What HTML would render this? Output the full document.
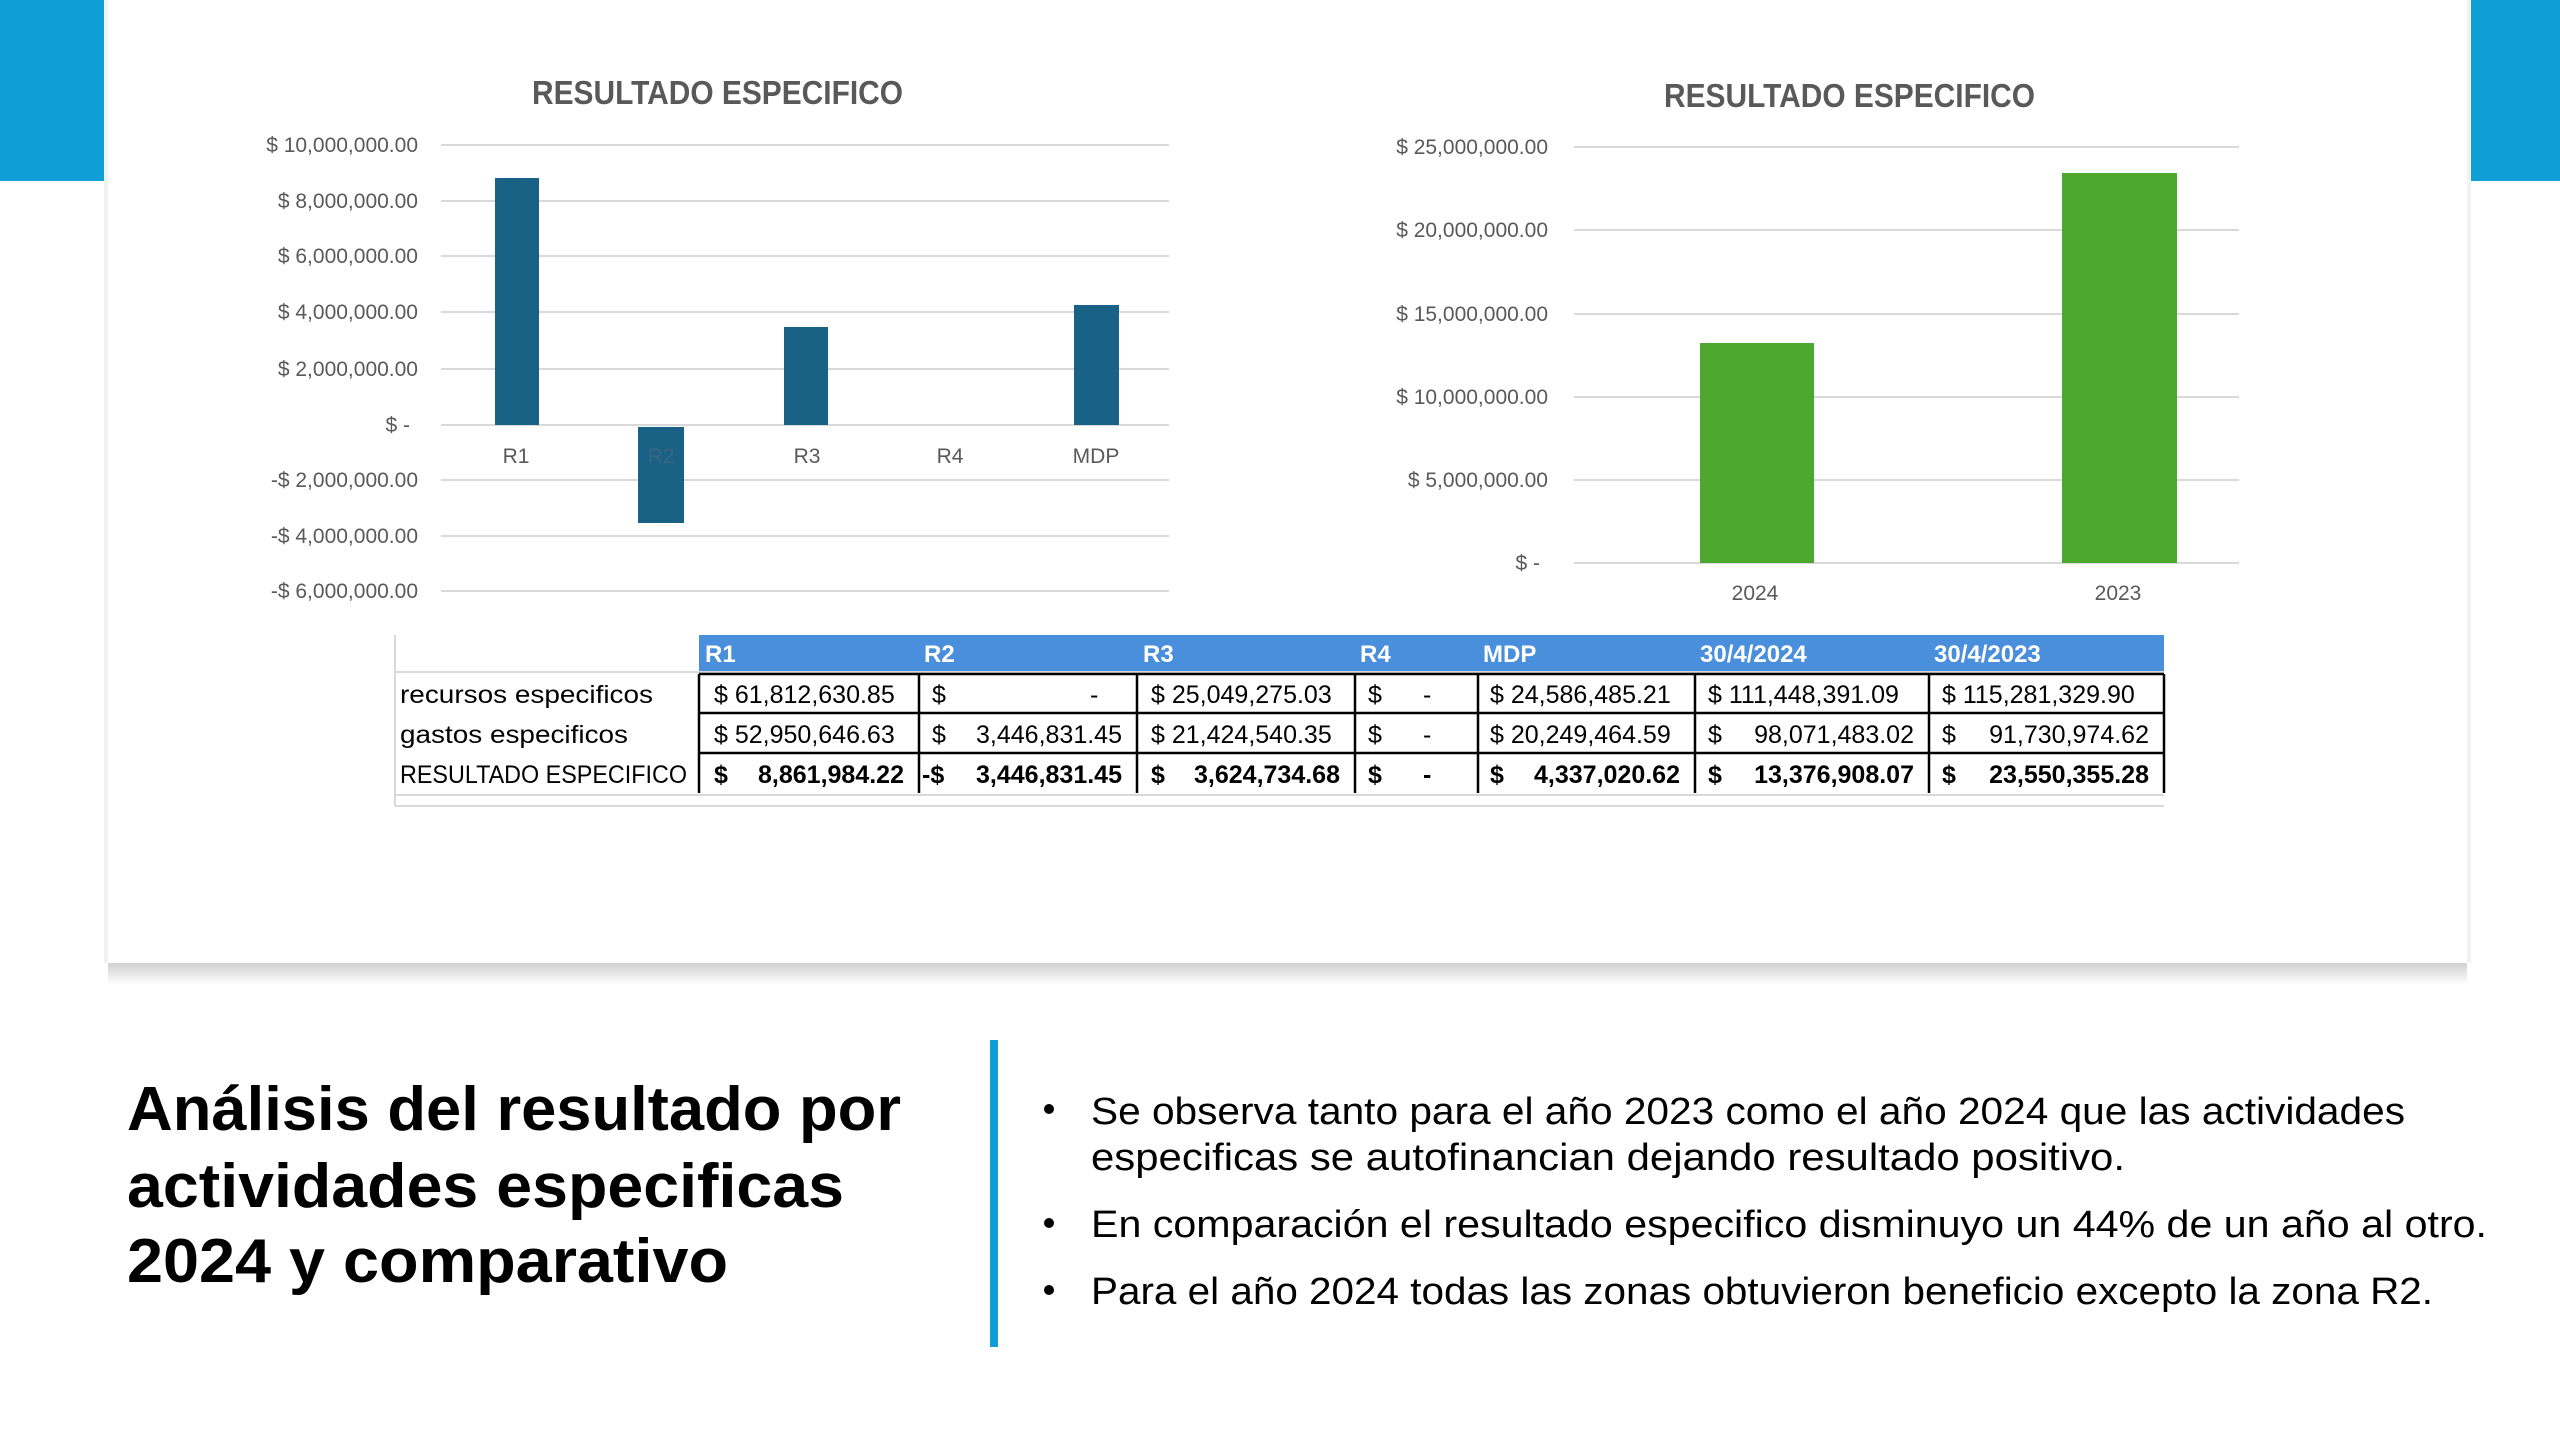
<!DOCTYPE html>
<html><head><meta charset="utf-8"><style>
html,body{margin:0;padding:0;background:#fff;}
svg{display:block;}
text{font-family:"Liberation Sans Narrow","Liberation Sans",sans-serif;}
</style></head><body>
<svg width="2560" height="1440" viewBox="0 0 2560 1440" xmlns="http://www.w3.org/2000/svg">
<defs>
<linearGradient id="sh" x1="0" y1="0" x2="0" y2="1"><stop offset="0" stop-color="#000" stop-opacity="0.18"/><stop offset="1" stop-color="#000" stop-opacity="0"/></linearGradient>
</defs>
<rect width="2560" height="1440" fill="#fff"/>
<rect x="0" y="0" width="108" height="181" fill="#0f9ed5"/>
<rect x="2467" y="0" width="93" height="181" fill="#0f9ed5"/>
<rect x="108" y="963" width="2359" height="22" fill="url(#sh)"/>
<rect x="104" y="0" width="4" height="963" fill="#f2f2f2"/>
<rect x="2467" y="0" width="4" height="963" fill="#f2f2f2"/>
<rect x="108" y="0" width="2359" height="963" fill="#fff"/>

<!-- Chart 1 -->
<text x="532" y="104" font-size="33" fill="#595959" font-weight="bold" textLength="371" lengthAdjust="spacingAndGlyphs">RESULTADO ESPECIFICO</text>
<g stroke="#d9d9d9" stroke-width="2">
<line x1="441" x2="1169" y1="145" y2="145"/><line x1="441" x2="1169" y1="201" y2="201"/>
<line x1="441" x2="1169" y1="256" y2="256"/><line x1="441" x2="1169" y1="312" y2="312"/>
<line x1="441" x2="1169" y1="369" y2="369"/><line x1="441" x2="1169" y1="425" y2="425"/>
<line x1="441" x2="1169" y1="480" y2="480"/><line x1="441" x2="1169" y1="536" y2="536"/>
<line x1="441" x2="1169" y1="591" y2="591"/>
</g>
<g font-size="21" fill="#595959" text-anchor="end">
<text x="418" y="152">$ 10,000,000.00</text><text x="418" y="208">$ 8,000,000.00</text>
<text x="418" y="263">$ 6,000,000.00</text><text x="418" y="319">$ 4,000,000.00</text>
<text x="418" y="376">$ 2,000,000.00</text><text x="410" y="432">$ -</text>
<text x="418" y="487">-$ 2,000,000.00</text><text x="418" y="543">-$ 4,000,000.00</text>
<text x="418" y="598">-$ 6,000,000.00</text>
</g>
<g fill="#1a6186">
<rect x="495" y="178" width="44" height="247"/>
<rect x="638" y="427" width="46" height="96"/>
<rect x="784" y="327" width="44" height="98"/>
<rect x="1074" y="305" width="45" height="120"/>
</g>
<g font-size="21" fill="#595959" text-anchor="middle">
<text x="516" y="463">R1</text><text x="661" y="463" fill="#3d6580">R2</text><text x="807" y="463">R3</text>
<text x="950" y="463">R4</text><text x="1096" y="463">MDP</text>
</g>

<!-- Chart 2 -->
<text x="1664" y="107" font-size="33" fill="#595959" font-weight="bold" textLength="371" lengthAdjust="spacingAndGlyphs">RESULTADO ESPECIFICO</text>
<g stroke="#d9d9d9" stroke-width="2">
<line x1="1574" x2="2239" y1="147" y2="147"/><line x1="1574" x2="2239" y1="230" y2="230"/>
<line x1="1574" x2="2239" y1="314" y2="314"/><line x1="1574" x2="2239" y1="397" y2="397"/>
<line x1="1574" x2="2239" y1="480" y2="480"/><line x1="1574" x2="2239" y1="563" y2="563"/>
</g>
<g font-size="21" fill="#595959" text-anchor="end">
<text x="1548" y="154">$ 25,000,000.00</text><text x="1548" y="237">$ 20,000,000.00</text>
<text x="1548" y="321">$ 15,000,000.00</text><text x="1548" y="404">$ 10,000,000.00</text>
<text x="1548" y="487">$ 5,000,000.00</text><text x="1540" y="570">$ -</text>
</g>
<rect x="1700" y="343" width="114" height="220" fill="#4ea72e"/>
<rect x="2062" y="173" width="115" height="390" fill="#4ea72e"/>
<g font-size="21" fill="#595959" text-anchor="middle">
<text x="1755" y="600">2024</text><text x="2118" y="600">2023</text>
</g>

<!-- Table -->
<rect x="699" y="635" width="1465" height="37" fill="#4a8fdb"/>
<g font-size="24" font-weight="bold" fill="#fff">
<text x="705" y="662">R1</text><text x="924" y="662">R2</text><text x="1143" y="662">R3</text>
<text x="1360" y="662">R4</text><text x="1483" y="662">MDP</text><text x="1700" y="662">30/4/2024</text>
<text x="1934" y="662">30/4/2023</text>
</g>
<g stroke="#d9d9d9" stroke-width="2">
<line x1="395" x2="2164" y1="672" y2="672"/><line x1="395" x2="2164" y1="795" y2="795"/>
<line x1="395" x2="2164" y1="806" y2="806"/>
<line x1="395" x2="395" y1="635" y2="806"/>
</g>
<g stroke="#000" stroke-width="2.5" fill="none">
<line x1="699" x2="2164" y1="674" y2="674"/><line x1="699" x2="2164" y1="713" y2="713"/>
<line x1="699" x2="2164" y1="753" y2="753"/>
<line x1="699" x2="699" y1="674" y2="793"/><line x1="919" x2="919" y1="674" y2="793"/>
<line x1="1137" x2="1137" y1="674" y2="793"/><line x1="1355" x2="1355" y1="674" y2="793"/>
<line x1="1478" x2="1478" y1="674" y2="793"/><line x1="1695" x2="1695" y1="674" y2="793"/>
<line x1="1929" x2="1929" y1="674" y2="793"/><line x1="2164" x2="2164" y1="674" y2="793"/>
</g>
<g font-size="25" fill="#000">
<text x="400" y="703" textLength="253" lengthAdjust="spacingAndGlyphs">recursos especificos</text>
<text x="400" y="743" textLength="228" lengthAdjust="spacingAndGlyphs">gastos especificos</text>
<text x="400" y="783" textLength="287" lengthAdjust="spacingAndGlyphs">RESULTADO ESPECIFICO</text>
<text x="714" y="703">$ 61,812,630.85</text><text x="932" y="703">$</text><text x="1090" y="703">-</text>
<text x="1151" y="703">$ 25,049,275.03</text><text x="1368" y="703">$</text><text x="1423" y="703">-</text>
<text x="1490" y="703">$ 24,586,485.21</text><text x="1708" y="703">$ 111,448,391.09</text>
<text x="1942" y="703">$ 115,281,329.90</text>
<text x="714" y="743">$ 52,950,646.63</text><text x="932" y="743">$</text><text x="1122" y="743" text-anchor="end">3,446,831.45</text>
<text x="1151" y="743">$ 21,424,540.35</text><text x="1368" y="743">$</text><text x="1423" y="743">-</text>
<text x="1490" y="743">$ 20,249,464.59</text><text x="1708" y="743">$</text><text x="1914" y="743" text-anchor="end">98,071,483.02</text>
<text x="1942" y="743">$</text><text x="2149" y="743" text-anchor="end">91,730,974.62</text>
</g>
<g font-size="25" font-weight="bold" fill="#000">
<text x="714" y="783">$</text><text x="904" y="783" text-anchor="end">8,861,984.22</text>
<text x="922" y="783">-$</text><text x="1122" y="783" text-anchor="end">3,446,831.45</text>
<text x="1151" y="783">$</text><text x="1340" y="783" text-anchor="end">3,624,734.68</text>
<text x="1368" y="783">$</text><text x="1423" y="783">-</text>
<text x="1490" y="783">$</text><text x="1680" y="783" text-anchor="end">4,337,020.62</text>
<text x="1708" y="783">$</text><text x="1914" y="783" text-anchor="end">13,376,908.07</text>
<text x="1942" y="783">$</text><text x="2149" y="783" text-anchor="end">23,550,355.28</text>
</g>

<!-- Bottom -->
<g font-size="62" font-weight="bold" fill="#000">
<text x="127" y="1130" textLength="774" lengthAdjust="spacingAndGlyphs" style="font-family:'Liberation Sans',sans-serif">Análisis del resultado por</text>
<text x="127" y="1207" textLength="717" lengthAdjust="spacingAndGlyphs" style="font-family:'Liberation Sans',sans-serif">actividades especificas</text>
<text x="127" y="1282" textLength="601" lengthAdjust="spacingAndGlyphs" style="font-family:'Liberation Sans',sans-serif">2024 y comparativo</text>
</g>
<rect x="990" y="1040" width="8" height="307" fill="#0f9ed5"/>
<g font-size="38" fill="#000">
<circle cx="1049" cy="1109" r="5"/><circle cx="1049" cy="1223" r="5"/><circle cx="1049" cy="1290" r="5"/>
<text x="1091" y="1124" textLength="1314" lengthAdjust="spacingAndGlyphs" style="font-family:'Liberation Sans',sans-serif">Se observa tanto para el año 2023 como el año 2024 que las actividades</text>
<text x="1091" y="1170" textLength="1034" lengthAdjust="spacingAndGlyphs" style="font-family:'Liberation Sans',sans-serif">especificas se autofinancian dejando resultado positivo.</text>
<text x="1091" y="1237" textLength="1396" lengthAdjust="spacingAndGlyphs" style="font-family:'Liberation Sans',sans-serif">En comparación el resultado especifico disminuyo un 44% de un año al otro.</text>
<text x="1091" y="1304" textLength="1342" lengthAdjust="spacingAndGlyphs" style="font-family:'Liberation Sans',sans-serif">Para el año 2024 todas las zonas obtuvieron beneficio excepto la zona R2.</text>
</g>
</svg>
</body></html>
